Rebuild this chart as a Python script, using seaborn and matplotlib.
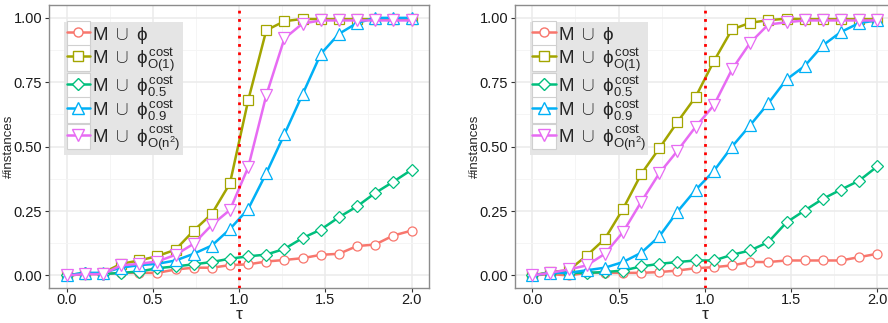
import numpy as np
import pandas as pd
import matplotlib
matplotlib.use("Agg")
import matplotlib.pyplot as plt
import seaborn as sns
from matplotlib.lines import Line2D
from matplotlib.patches import Rectangle
from matplotlib.legend_handler import HandlerLine2D

# tau values (20 points between 0 and 2)
tau = [0.0, 0.105, 0.211, 0.316, 0.421, 0.526, 0.632, 0.737, 0.842, 0.947,
       1.053, 1.158, 1.263, 1.368, 1.474, 1.579, 1.684, 1.789, 1.895, 2.0]

labels = [r"$\mathrm{M}\ \cup\ \phi$",
          r"$\mathrm{M}\ \cup\ \phi^{\mathrm{cost}}_{\mathrm{O(1)}}$",
          r"$\mathrm{M}\ \cup\ \phi^{\mathrm{cost}}_{\mathrm{0.5}}$",
          r"$\mathrm{M}\ \cup\ \phi^{\mathrm{cost}}_{\mathrm{0.9}}$",
          r"$\mathrm{M}\ \cup\ \phi^{\mathrm{cost}}_{\mathrm{O(n^2)}}$"]
colors = ["#F8766D", "#A3A500", "#00BF7D", "#00B0F6", "#E76BF3"]
markers = ["o", "s", "D", "^", "v"]
msizes = [6.5, 6.5, 6, 8.5, 8.5]

# left panel
left_phi = [0, 0.005, 0.005, 0.01, 0.01, 0.01, 0.023, 0.03, 0.03, 0.04,
            0.043, 0.054, 0.06, 0.067, 0.08, 0.084, 0.114, 0.12, 0.155, 0.174]
left_o1 = [0, 0.005, 0.01, 0.045, 0.058, 0.075, 0.1, 0.174, 0.239, 0.357,
           0.68, 0.952, 0.987, 0.996, 0.995, 0.995, 0.995, 0.995, 0.995, 0.995]
left_05 = [0, 0.01, 0.005, 0.01, 0.015, 0.028, 0.035, 0.043, 0.052, 0.065,
           0.074, 0.081, 0.103, 0.145, 0.178, 0.226, 0.268, 0.32, 0.364, 0.41]
left_09 = [0, 0.01, 0.01, 0.03, 0.04, 0.045, 0.058, 0.084, 0.116, 0.18,
           0.258, 0.397, 0.548, 0.703, 0.86, 0.938, 0.98, 1.0, 1.0, 1.0]
left_on2 = [0, 0.005, 0.005, 0.039, 0.045, 0.054, 0.08, 0.123, 0.196, 0.254,
            0.42, 0.70, 0.92, 0.978, 0.99, 0.99, 0.99, 0.99, 0.99, 0.99]

# right panel
right_phi = [0, 0.005, 0.0, 0.01, 0.01, 0.01, 0.01, 0.013, 0.019, 0.028,
             0.032, 0.039, 0.052, 0.052, 0.058, 0.058, 0.058, 0.058, 0.071, 0.084]
right_o1 = [0, 0.013, 0.02, 0.077, 0.142, 0.258, 0.394, 0.494, 0.596, 0.693,
            0.832, 0.955, 0.981, 0.991, 0.997, 0.995, 0.995, 0.995, 0.995, 0.995]
right_05 = [0, 0.01, 0.01, 0.01, 0.013, 0.019, 0.035, 0.045, 0.052, 0.058,
            0.058, 0.08, 0.097, 0.129, 0.206, 0.252, 0.297, 0.333, 0.368, 0.423]
right_09 = [0, 0.01, 0.01, 0.02, 0.03, 0.052, 0.088, 0.152, 0.248, 0.332,
            0.406, 0.50, 0.583, 0.668, 0.761, 0.813, 0.893, 0.945, 0.98, 0.99]
right_on2 = [0, 0.01, 0.023, 0.039, 0.084, 0.168, 0.286, 0.397, 0.484, 0.577,
             0.661, 0.80, 0.903, 0.974, 0.983, 0.99, 0.99, 0.99, 0.99, 0.99]

left_data = [left_phi, left_o1, left_05, left_09, left_on2]
right_data = [right_phi, right_o1, right_05, right_09, right_on2]

sns.set_theme(style="white")
plt.rcParams["font.family"] = ["Liberation Sans", "DejaVu Sans"]
plt.rcParams["mathtext.fontset"] = "custom"
plt.rcParams["mathtext.rm"] = "Liberation Sans"
plt.rcParams["mathtext.it"] = "Liberation Sans"
plt.rcParams["mathtext.bf"] = "Liberation Sans:bold"


class KeyHandler(HandlerLine2D):
    # white key box behind each legend handle, like ggplot
    def create_artists(self, legend, orig_handle, xdescent, ydescent,
                       width, height, fontsize, trans):
        rect = Rectangle((-xdescent, -ydescent - 2), width, height + 4,
                         facecolor="white", edgecolor="#D0D0D0", lw=0.8,
                         transform=trans)
        arts = super().create_artists(legend, orig_handle, xdescent, ydescent,
                                      width, height, fontsize, trans)
        return [rect] + list(arts)


fig = plt.figure(figsize=(8.88, 3.23), dpi=100)
W, H = 888.0, 323.0
ax_l = fig.add_axes([49.3 / W, (H - 288.3) / H, 379.5 / W, 283.3 / H])
ax_r = fig.add_axes([515.0 / W, (H - 288.3) / H, 379.5 / W, 283.3 / H])

for ax, data in [(ax_l, left_data), (ax_r, right_data)]:
    for i, vals in enumerate(data):
        df = pd.DataFrame({"tau": tau, "frac": vals})
        sns.lineplot(data=df, x="tau", y="frac", ax=ax, color=colors[i],
                     lw=1.8, marker=markers[i], markersize=msizes[i],
                     markerfacecolor="white", markeredgecolor=colors[i],
                     markeredgewidth=0.9, zorder=3 + i)
    ax.axvline(1.0, color="red", lw=2, linestyle=(0, (1, 2)), zorder=10)
    ax.set_xlim(-0.1, 2.1)
    ax.set_ylim(-0.05, 1.05)
    ax.set_xticks([0, 0.5, 1.0, 1.5, 2.0])
    ax.set_xticklabels(["0.0", "0.5", "1.0", "1.5", "2.0"])
    ax.set_yticks([0, 0.25, 0.5, 0.75, 1.0])
    ax.set_yticklabels(["0.00", "0.25", "0.50", "0.75", "1.00"])
    ax.set_xticks([0.25, 0.75, 1.25, 1.75], minor=True)
    ax.set_yticks([0.125, 0.375, 0.625, 0.875], minor=True)
    ax.grid(True, which="major", color="#EBEBEB", lw=1.1, zorder=0)
    ax.grid(True, which="minor", color="#F4F4F4", lw=0.6, zorder=0)
    ax.set_axisbelow(True)
    for s in ax.spines.values():
        s.set_color("#8C8C8C")
        s.set_linewidth(1.0)
    ax.tick_params(which="major", direction="out", length=3, width=0.8,
                   color="#333333", labelsize=10.5, labelcolor="#1A1A1A", pad=2,
                   bottom=True, left=True)
    ax.tick_params(axis="x", which="major", pad=0.5)
    ax.tick_params(which="minor", length=0)
    ax.set_xlabel("τ", fontsize=12.5, labelpad=0)
    ax.set_ylabel("#instances", fontsize=9.5, labelpad=-1)

    handles = [Line2D([], [], color=colors[i], lw=1.8, marker=markers[i],
                      markersize=msizes[i], markerfacecolor="white",
                      markeredgecolor=colors[i]) for i in range(5)]
    leg = ax.legend(handles, labels, loc="upper left",
                    bbox_to_anchor=(0.04, 0.94), fontsize=13.5,
                    handlelength=1.25, handleheight=1.25, handletextpad=0.1,
                    labelspacing=0.0, borderpad=0.12, borderaxespad=0,
                    frameon=True, fancybox=False,
                    handler_map={Line2D: KeyHandler()})
    leg.get_frame().set_facecolor("#E5E5E5")
    leg.get_frame().set_edgecolor("none")
    leg.get_frame().set_alpha(1)
    leg.set_zorder(20)

plt.savefig("out.png", dpi=100)
plt.close()
